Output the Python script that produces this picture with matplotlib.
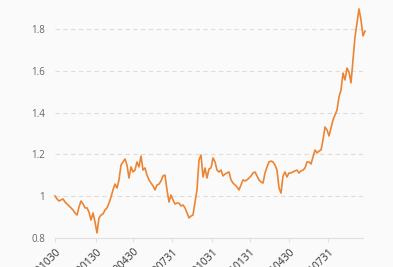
import matplotlib
matplotlib.use("Agg")
import matplotlib.pyplot as plt

values = [
    1.001, 0.987, 0.977, 0.982, 0.987, 0.972, 0.963, 0.953, 0.944, 0.934,
    0.920, 0.910, 0.948, 0.977, 0.963, 0.944, 0.944, 0.924, 0.886, 0.920,
    0.877, 0.824, 0.896, 0.910, 0.915, 0.934, 0.944, 0.967, 0.996, 1.030,
    1.058, 1.039, 1.078, 1.149, 1.164, 1.178, 1.149, 1.087, 1.140, 1.116,
    1.125, 1.164, 1.140, 1.192, 1.125, 1.135, 1.101, 1.078, 1.063, 1.049,
    1.030, 1.054, 1.058, 1.073, 1.097, 1.101, 1.030, 0.972, 1.006, 0.982,
    0.963, 0.967, 0.967, 0.953, 0.958, 0.944, 0.920, 0.896, 0.905, 0.910,
    0.972, 1.030, 1.173, 1.197, 1.092, 1.135, 1.087, 1.130, 1.135, 1.183,
    1.164, 1.125, 1.116, 1.125, 1.097, 1.106, 1.111, 1.116, 1.078, 1.063,
    1.054, 1.044, 1.030, 1.054, 1.078, 1.073, 1.078, 1.087, 1.097, 1.111,
    1.116, 1.097, 1.078, 1.068, 1.063, 1.111, 1.140, 1.164, 1.168, 1.164,
    1.149, 1.125, 1.039, 1.015, 1.097, 1.116, 1.092, 1.111, 1.111, 1.116,
    1.121, 1.125, 1.111, 1.121, 1.125, 1.135, 1.164, 1.164, 1.154, 1.188,
    1.221, 1.207, 1.216, 1.221, 1.269, 1.331, 1.317, 1.288, 1.326, 1.365,
    1.389, 1.412, 1.475, 1.508, 1.589, 1.556, 1.613, 1.594, 1.542, 1.652,
    1.762, 1.829, 1.896, 1.843, 1.767, 1.790,
]
tick_labels = ["20191030", "20200130", "20200430", "20200731",
               "20201031", "20210131", "20210430", "20210731"]
tick_index = [0, 20.5, 39, 58.5, 78.5, 97.5, 117, 136.5]
y_ticks = [0.8, 1.0, 1.2, 1.4, 1.6, 1.8]
y_labels = ["0.8", "1", "1.2", "1.4", "1.6", "1.8"]

plt.rcParams['font.family'] = ['Open Sans', 'DejaVu Sans']

bg = "#fafafa"
fig = plt.figure(figsize=(3.93, 2.67), dpi=100, facecolor=bg)
ax = fig.add_axes([55/393, 1 - 238/267, (363 - 55)/393, 238/267])
ax.set_facecolor(bg)

x = list(range(len(values)))
ax.plot(x, values, color="#eb8534", lw=1.2, clip_on=False, zorder=3,
        solid_joinstyle="round")

ax.set_xlim(0, 154)
ax.set_ylim(0.8, 0.8 + 238/209)

ax.set_yticks(y_ticks)
ax.set_yticklabels(y_labels, fontsize=7, color="#666666")
ax.set_xticks(tick_index)
ax.set_xticklabels(tick_labels, fontsize=7.5, color="#333333", rotation=45,
                   ha="right", rotation_mode="anchor")

for yv in y_ticks[1:]:
    ax.axhline(yv, color="#dddddd", lw=0.8, ls=(0, (4, 3)), zorder=1)

for s in ["top", "right", "left"]:
    ax.spines[s].set_visible(False)
ax.spines["bottom"].set_color("#e0e0e0")
ax.spines["bottom"].set_linewidth(0.8)
ax.tick_params(axis="y", length=0, pad=7)
ax.tick_params(axis="x", length=3, color="#e0e0e0", pad=3)

fig.savefig("out.png", dpi=100, facecolor=bg)
